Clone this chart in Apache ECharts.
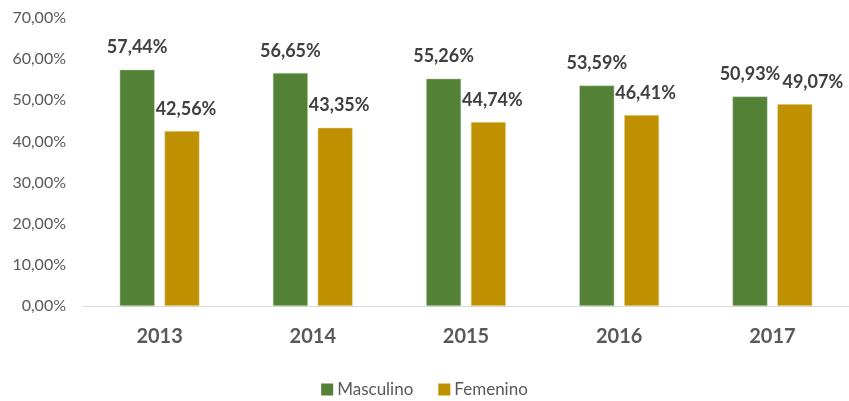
<!DOCTYPE html>
<html>
<head>
<meta charset="utf-8">
<script src="https://cdn.jsdelivr.net/npm/echarts@6/dist/echarts.min.js"></script>
<style>
  html, body { margin: 0; padding: 0; background: #fff; }
  #main { width: 849px; height: 401px; }
</style>
</head>
<body>
<div id="main"></div>
<script>
const years = ['2013', '2014', '2015', '2016', '2017']
const masculino = [57.44, 56.65, 55.26, 53.59, 50.93]
const femenino = [42.56, 43.35, 44.74, 46.41, 49.07]

const fmt = v => v.toFixed(2).replace('.', ',') + '%'

const chart = echarts.init(document.getElementById('main'))

const labelStyle = {
  show: true,
  position: 'top',
  distance: 13,
  color: '#404040',
  fontSize: 18,
  fontWeight: 'bold',
  fontFamily: 'Lato',
  formatter: p => fmt(p.value)
}

// last femenino label is pushed right, like in the original, to clear its neighbour
const femData = femenino.map((v, i) =>
  i === femenino.length - 1 ? { value: v, label: { offset: [18, 0] } } : v
)

const option = {
  animation: false,
  textStyle: { fontFamily: 'Lato' },
  grid: { left: 83, right: -4, top: 18, bottom: 95 },
  legend: {
    bottom: -2,
    left: 'center',
    itemWidth: 12,
    itemHeight: 12,
    itemGap: 25,
    icon: 'rect',
    itemStyle: { borderWidth: 0 },
    textStyle: { color: '#595959', fontSize: 17, fontFamily: 'Lato', padding: [0, 0, 0, -1] },
    data: ['Masculino', 'Femenino']
  },
  xAxis: {
    type: 'category',
    data: years,
    axisLine: { lineStyle: { color: '#d9d9d9', width: 1 } },
    axisTick: { show: false },
    axisLabel: { color: '#595959', fontSize: 20, fontWeight: 'bold', margin: 21 }
  },
  yAxis: {
    type: 'value',
    min: 0,
    max: 70,
    interval: 10,
    splitLine: { show: false },
    axisLine: { show: false },
    axisTick: { show: false },
    axisLabel: { color: '#595959', fontSize: 16, margin: 17, formatter: v => fmt(v) }
  },
  series: [
    {
      name: 'Masculino',
      type: 'bar',
      data: masculino,
      barWidth: 35,
      barGap: '28%',
      itemStyle: { color: '#538135', borderColor: '#c9d9bd', borderWidth: 0.5 },
      label: labelStyle
    },
    {
      name: 'Femenino',
      type: 'bar',
      data: femData,
      barWidth: 35,
      itemStyle: { color: '#bf9000', borderColor: '#f0e0b0', borderWidth: 0.5 },
      label: Object.assign({}, labelStyle, { offset: [4, 0] })
    }
  ]
}
chart.setOption(option)
</script>
</body>
</html>
